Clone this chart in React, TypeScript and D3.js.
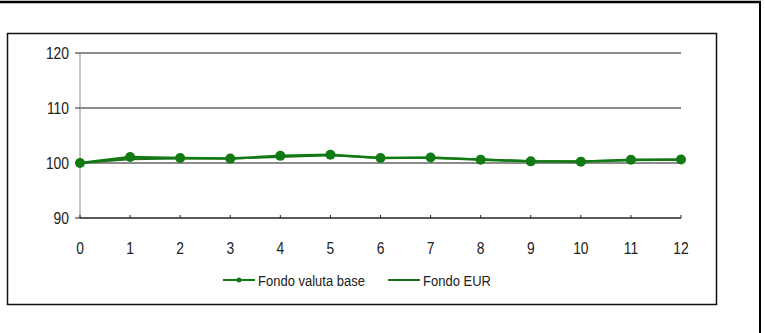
import React from "react";
import * as d3 from "d3";

const months = [0, 1, 2, 3, 4, 5, 6, 7, 8, 9, 10, 11, 12];
const fondoBase = [100, 101.1, 100.9, 100.8, 101.3, 101.5, 100.9, 101.0, 100.6, 100.3, 100.25, 100.6, 100.65];
const fondoEur = [100, 100.7, 100.8, 100.8, 101.1, 101.4, 100.9, 100.9, 100.7, 100.3, 100.3, 100.5, 100.6];
const yTicks = [90, 100, 110, 120];

const width = 765;
const height = 333;
const plot = { left: 80, right: 681, top: 53, bottom: 218 };
const green = "#127a12";
const font = "'Liberation Sans', Arial, sans-serif";

// narrow-looking text, like the original
const Label: React.FC<{ x: number; y: number; anchor?: string; size?: number; children: React.ReactNode }> = ({
  x,
  y,
  anchor = "start",
  size = 16.5,
  children,
}) => (
  <text
    transform={`translate(${x},${y}) scale(0.84,1)`}
    textAnchor={anchor}
    fontSize={size}
    fill="#222"
  >
    {children}
  </text>
);

const App: React.FC = () => {
  const x = d3.scaleLinear().domain([0, 12]).range([plot.left, plot.right]);
  const y = d3.scaleLinear().domain([90, 120]).range([plot.bottom, plot.top]);

  const line = d3
    .line<number>()
    .x((_, i) => x(months[i]))
    .y((d) => y(d));

  return (
    <svg
      width={width}
      height={height}
      style={{ position: "absolute", left: 0, top: 0, background: "#fff" }}
      fontFamily={font}
    >
      {/* outer frame, only top and right are visible */}
      <line x1={0} x2={761} y1={2} y2={2} stroke="#000" strokeWidth={2.5} />
      <line x1={760} x2={760} y1={1} y2={height} stroke="#000" strokeWidth={2} />
      {/* inner box */}
      <rect x={7.5} y={33.5} width={709} height={271} fill="#fff" stroke="#111" strokeWidth={1.5} />

      {yTicks.slice(1).map((t) => (
        <line key={t} x1={plot.left} x2={plot.right} y1={y(t)} y2={y(t)} stroke="#1a1a1a" strokeWidth={1.2} />
      ))}
      <line x1={plot.left} x2={plot.left} y1={plot.top} y2={plot.bottom} stroke="#8a8a8a" strokeWidth={1} />
      {yTicks.map((t) => (
        <g key={t}>
          <line x1={plot.left - 5} x2={plot.left} y1={y(t)} y2={y(t)} stroke="#222" />
          <Label x={plot.left - 11} y={y(t) + 6} anchor="end">
            {t}
          </Label>
        </g>
      ))}
      <line x1={plot.left} x2={plot.right} y1={plot.bottom} y2={plot.bottom} stroke="#222" strokeWidth={1.5} />
      {months.map((m) => (
        <g key={m}>
          <line x1={x(m)} x2={x(m)} y1={plot.bottom} y2={plot.bottom - 3} stroke="#222" />
          <Label x={x(m)} y={plot.bottom + 36} anchor="middle">
            {m}
          </Label>
        </g>
      ))}

      <path d={line(fondoEur) ?? ""} fill="none" stroke="#1d6e1d" strokeWidth={2} />
      <path d={line(fondoBase) ?? ""} fill="none" stroke={green} strokeWidth={2.5} />
      {fondoBase.map((v, i) => (
        <circle key={i} cx={x(months[i])} cy={y(v)} r={5} fill={green} />
      ))}

      <g transform="translate(223,280)">
        <line x1={0} x2={32} y1={0} y2={0} stroke={green} strokeWidth={2} />
        <circle cx={16} cy={0} r={2.5} fill={green} />
        <Label x={35} y={5.5} size={15.5}>
          Fondo valuta base
        </Label>
        <line x1={165} x2={197} y1={0} y2={0} stroke="#1d6e1d" strokeWidth={2} />
        <Label x={200} y={5.5} size={15.5}>
          Fondo EUR
        </Label>
      </g>
    </svg>
  );
};

export default App;
